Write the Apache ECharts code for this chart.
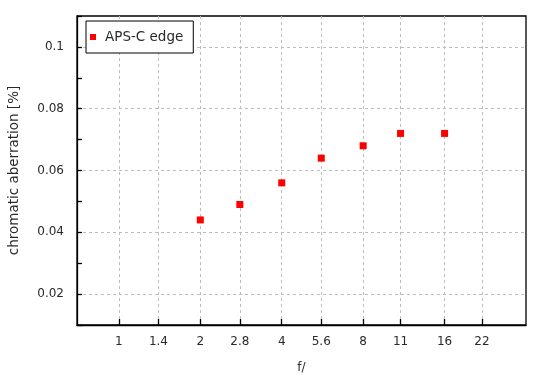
<!DOCTYPE html>
<html>
<head>
<meta charset="utf-8">
<script src="https://cdn.jsdelivr.net/npm/echarts@6/dist/echarts.min.js"></script>
<style>html,body{margin:0;padding:0;background:#fff}#c{width:550px;height:380px}</style>
</head>
<body>
<div id="c"></div>
<script>
var fStops = [1, 1.4, 2, 2.8, 4, 5.6, 8, 11, 16, 22];
var fNumbers = [2, 2.8, 4, 5.6, 8, 11, 16];
var caValues = [0.044, 0.049, 0.056, 0.064, 0.068, 0.072, 0.072];
var seriesName = 'APS-C edge';

var tickVals = fStops.map(function (f) { return Math.log2(f); });
var data = fNumbers.map(function (f, i) { return [Math.log2(f), caValues[i]]; });
var font = 'DejaVu Sans';
var squarePath = 'path://M0,0L10,0L10,10L0,10Z';
var textColor = '#2a2a2a';

var chart = echarts.init(document.getElementById('c'));
chart.setOption({
  animation: false,
  grid: {
    left: 77, top: 16, width: 449, height: 309, show: true,
    borderColor: '#000', borderWidth: 1.3, backgroundColor: '#fff',
    outerBoundsMode: 'none', containLabel: false
  },
  legend: {
    left: 86, top: 21, padding: [9, 10, 9, 4], itemWidth: 14, itemHeight: 6,
    borderColor: '#000', borderWidth: 1, backgroundColor: '#fff',
    textStyle: { fontFamily: font, fontSize: 13.5, color: textColor },
    data: [{ name: seriesName, icon: squarePath }]
  },
  xAxis: {
    type: 'value', min: Math.log2(0.7), max: 5,
    name: 'f/', nameLocation: 'middle', nameGap: 37,
    nameTextStyle: { fontFamily: font, fontSize: 12, color: textColor },
    axisLine: { onZero: false, lineStyle: { color: '#000', width: 1.3 } },
    axisTick: { inside: true, length: 6, lineStyle: { color: '#000', width: 1.3 }, customValues: tickVals },
    axisLabel: {
      customValues: tickVals, margin: 11, fontFamily: font, fontSize: 12, color: textColor,
      formatter: function (v) {
        var best = 0, d = 1e9;
        for (var i = 0; i < tickVals.length; i++) { var dd = Math.abs(tickVals[i] - v); if (dd < d) { d = dd; best = i; } }
        return String(fStops[best]);
      }
    },
    splitLine: { show: true, lineStyle: { color: '#bdbdbd', type: [3, 3], width: 1 } }
  },
  yAxis: {
    type: 'value', min: 0.01, max: 0.11, interval: 0.01,
    name: 'chromatic aberration [%]', nameLocation: 'middle', nameGap: 56,
    nameTextStyle: { fontFamily: font, fontSize: 13.5, color: textColor },
    axisLine: { show: true, onZero: false, lineStyle: { color: '#000', width: 1.3 } },
    axisTick: { show: true, inside: true, length: 5, lineStyle: { color: '#000', width: 1.3 } },
    axisLabel: {
      margin: 13, fontFamily: font, fontSize: 12, color: textColor,
      formatter: function (v) {
        var k = Math.round(v * 100);
        if (k % 2 !== 0 || k < 2 || k > 10) return '';
        return String(+(k / 100).toFixed(2));
      }
    },
    splitLine: { show: true, lineStyle: { color: ['rgba(0,0,0,0)', '#bdbdbd'], type: [3, 3], width: 1 } }
  },
  series: [{
    name: seriesName, type: 'scatter', symbol: 'rect', symbolSize: 7,
    itemStyle: { color: '#ff0000', opacity: 1 }, data: data
  }]
});
</script>
</body>
</html>
